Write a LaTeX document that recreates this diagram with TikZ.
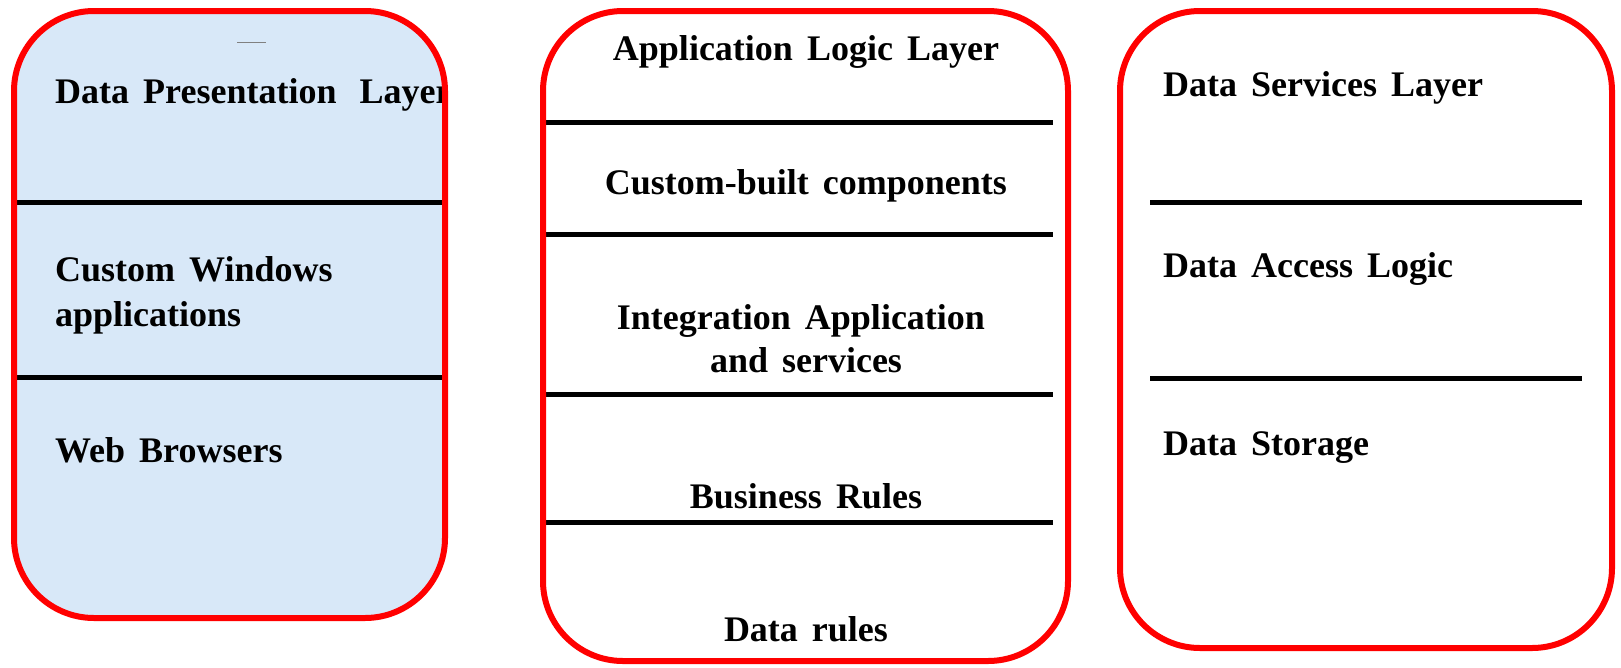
\documentclass[tikz,border=0pt]{standalone}
\usepackage{fontspec}
\setmainfont{Liberation Serif}
\usetikzlibrary{positioning}
\definecolor{presfill}{RGB}{216,232,248}
\newcommand{\layerfont}{\fontsize{36}{43}\selectfont\bfseries\spaceskip=0.39em\relax}

\begin{document}
\begin{tikzpicture}[x=1pt,y=-1pt]
% Define styles
\tikzstyle{layer}=[draw=red, line width=6pt, rounded corners=80pt]
\tikzstyle{divider}=[line width=5pt, black]
\tikzstyle{label}=[font=\layerfont, inner sep=0pt]
\useasboundingbox (0,0) rectangle (1621,667);

% Presentation column
\begin{scope}
\clip[rounded corners=80pt] (14,11) rectangle (445,618);
\fill[presfill] (14,11) rectangle (445,618);
\draw[gray, line width=1pt] (237,42) -- (266,42);
\node[label, anchor=base west] (pres) at (55,103) {Data Presentation\hspace{0.64em}Layer};
\node[label, anchor=base west] (custwin) at (55,281) {Custom Windows};
\node[label, anchor=base west] (custapp) at (55,326) {applications};
\node[label, anchor=base west] (web) at (55,462) {Web Browsers};
\end{scope}
\draw[divider] (14,202) -- (445,202);
\draw[divider] (14,377) -- (445,377);
\draw[layer] (14,11) rectangle (445,618);

% Application column
\node[label, anchor=base] (applogic) at (806,60) {Application Logic Layer};
\node[label, anchor=base] (custom) at (806,194) {Custom-built components};
\node[label, anchor=base] (integ) at (801,329) {Integration Application};
\node[label, anchor=base] (integsvc) at (806,372) {and services};
\node[label, anchor=base] (business) at (806,508) {Business Rules};
\node[label, anchor=base] (datarules) at (806,641) {Data rules};
\foreach \y in {122,234,394,522}
  \draw[divider] (545,\y) -- (1053,\y);
\draw[layer] (543,11) rectangle (1068,661);

% Data services column
\node[label, anchor=base west] (dataserv) at (1163,96) {Data Services Layer};
\node[label, anchor=base west] (access) at (1163,277) {Data Access Logic};
\node[label, anchor=base west] (storage) at (1163,455) {Data Storage};
\draw[divider] (1150,202) -- (1582,202);
\draw[divider] (1150,378) -- (1582,378);
\draw[layer] (1120,11) rectangle (1612,648);
\end{tikzpicture}
\end{document}
